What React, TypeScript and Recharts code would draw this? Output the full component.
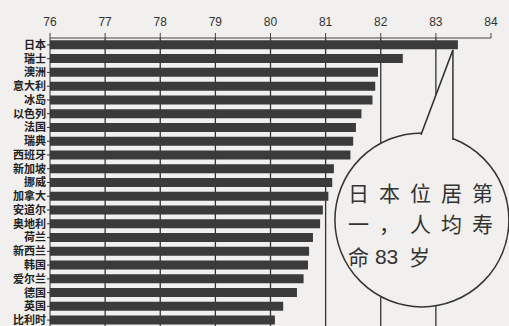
import React from "react";
import {
  BarChart,
  Bar,
  XAxis,
  YAxis,
  CartesianGrid,
  ReferenceDot,
} from "recharts";

const countries = [
  "日本", "瑞士", "澳洲", "意大利", "冰岛", "以色列", "法国", "瑞典", "西班牙",
  "新加坡", "挪威", "加拿大", "安道尔", "奥地利", "荷兰", "新西兰", "韩国",
  "爱尔兰", "德国", "英国", "比利时",
];
const lifeExpectancy = [
  83.4, 82.4, 81.95, 81.9, 81.85, 81.65, 81.55, 81.5, 81.45,
  81.15, 81.12, 81.05, 80.95, 80.9, 80.77, 80.7, 80.68,
  80.6, 80.48, 80.23, 80.08,
];
const xTicks = [76, 77, 78, 79, 80, 81, 82, 83, 84];
const gridValues = [77, 78, 79, 80, 81, 82, 83];
const calloutLines = ["日本位居第", "一，人均寿"];

const data = countries.map((name, i) => ({ name, value: lifeExpectancy[i] }));

const BG = "#f1f0ee";
const INK = "#3b3b3b";
const FONT = "'Liberation Sans', 'Noto Sans CJK SC', sans-serif";

const Callout = (props: any) => {
  const { cx, cy } = props;
  if (cx == null || cy == null) return null;
  const ccx = cx - 36;
  const ccy = cy + 175;
  const ax = cx - 5;
  const ay = cy + 5;
  const lx = cx - 37;
  const ly = cy + 90;
  const rx = cx - 5;
  const ry = cy + 95;
  const tx = cx - 110;
  const textStyle = {
    fontFamily: "'Noto Sans CJK SC', sans-serif",
    fontSize: 21,
    fill: "#333",
  };
  return (
    <g>
      <circle cx={ccx} cy={ccy} r={87} fill={BG} stroke="#333" strokeWidth={1.5} />
      <polygon
        points={`${ax},${ay} ${lx},${ly} ${lx},${ly + 10} ${rx},${ry + 10} ${rx},${ry}`}
        fill={BG}
      />
      <line x1={ax} y1={ay} x2={lx} y2={ly} stroke="#333" strokeWidth={1.5} />
      <line x1={ax} y1={ay} x2={rx} y2={ry} stroke="#333" strokeWidth={1.5} />
      {calloutLines.map((t, i) => (
        <text
          key={t}
          x={tx}
          y={cy + 147 + i * 31}
          dominantBaseline="central"
          style={{ ...textStyle, letterSpacing: 10 }}
        >
          {t}
        </text>
      ))}
      <text y={cy + 211} dominantBaseline="central" style={textStyle}>
        <tspan x={tx}>命</tspan>
        <tspan x={tx + 27} fontFamily="'Liberation Sans', sans-serif">83</tspan>
        <tspan x={tx + 61}>岁</tspan>
      </text>
    </g>
  );
};

export default function App() {
  return (
    <div
      style={{
        position: "absolute",
        left: 0,
        top: 0,
        width: 509,
        height: 326,
        overflow: "hidden",
        background: BG,
      }}
    >
      <BarChart
        width={509}
        height={330}
        data={data}
        layout="vertical"
        margin={{ top: 8, right: 18, bottom: 3, left: 0 }}
        barCategoryGap="17%"
      >
        <CartesianGrid
          horizontal={false}
          vertical={true}
          verticalValues={gridValues}
          stroke="#333"
          strokeWidth={1.3}
        />
        <XAxis
          type="number"
          orientation="top"
          domain={[76, 84]}
          ticks={xTicks}
          allowDataOverflow
          height={30}
          tickSize={5}
          tickMargin={7}
          stroke="#444"
          tick={{ fontSize: 12, fill: "#333", fontFamily: FONT }}
        />
        <YAxis
          type="category"
          dataKey="name"
          width={50}
          interval={0}
          tickSize={3}
          tickMargin={1}
          stroke="#333"
          tick={{ fontSize: 11, fontWeight: "bold", fill: "#222", fontFamily: FONT }}
        />
        <Bar dataKey="value" fill={INK} isAnimationActive={false} />
        <ReferenceDot
          x={lifeExpectancy[0]}
          y={countries[0]}
          r={0}
          shape={<Callout />}
          ifOverflow="visible"
        />
      </BarChart>
    </div>
  );
}
